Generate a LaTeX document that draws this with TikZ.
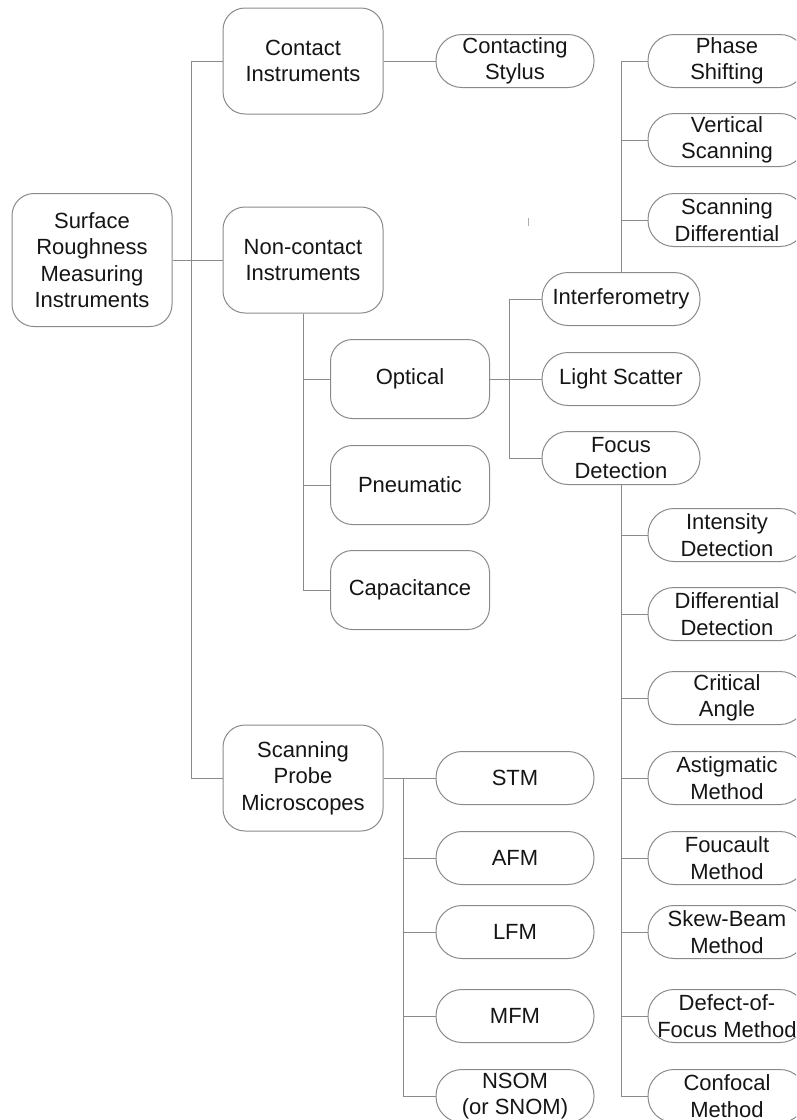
\documentclass[tikz,border=0pt]{standalone}
\usepackage{fontspec}
\usepackage{xcolor}
\setmainfont{Liberation Sans}
\definecolor{treeLine}{HTML}{8A8A8A}
\definecolor{treeText}{HTML}{151515}
\tikzset{
  catbox/.style={draw=treeLine,line width=1pt,rounded corners=22pt,minimum width=160pt,
    align=center,text=treeText,font=\fontsize{22}{26.5}\selectfont,inner sep=0pt},
  leafpill/.style={draw=treeLine,line width=1pt,rounded corners=26pt,minimum width=158pt,
    minimum height=53pt,align=center,text=treeText,font=\fontsize{22}{26.5}\selectfont,inner sep=0pt},
  link/.style={draw=treeLine,line width=1pt}
}

\begin{document}
\begin{tikzpicture}[x=1pt,y=-1pt]
\useasboundingbox (0,0) rectangle (796,1120);
\clip (0,0) rectangle (796,1120);
% main categories
\node[catbox,minimum height=133pt] (root) at (92,260) {Surface\\Roughness\\Measuring\\Instruments};
\node[catbox,minimum height=106pt] (contact) at (303,61) {Contact\\Instruments};
\node[catbox,minimum height=106pt] (noncontact) at (303,260) {Non-contact\\Instruments};
\node[catbox,minimum height=106pt] (spm) at (303,778) {Scanning\\Probe\\Microscopes};
\node[leafpill] (stylus) at (515,61) {Contacting\\Stylus};
% non-contact methods
\foreach \nm/\yy/\txt in {optical/379/Optical,pneumatic/485/Pneumatic,capacitance/590/Capacitance}
  \node[catbox,minimum width=159pt,minimum height=79pt] (\nm) at (410,\yy) {\txt};
\node[leafpill] (interf) at (621,299) {Interferometry};
\node[leafpill] (scatter) at (621,379) {Light Scatter};
\node[leafpill] (focus) at (621,458) {Focus\\Detection};
% interferometry leaves
\foreach \nm/\yy/\txt in {phase/61/{Phase\\Shifting},vertscan/140/{Vertical\\Scanning},
    scandiff/220/{Scanning\\Differential}}
  \node[leafpill] (\nm) at (727,\yy) {\txt};
% focus detection leaves
\foreach \nm/\yy/\txt in {intens/535/{Intensity\\Detection},diffdet/614/{Differential\\Detection},
    critical/698/{Critical\\Angle},astig/778/{Astigmatic\\Method},foucault/858/{Foucault\\Method},
    skew/932/{Skew-Beam\\Method},defect/1016/{Defect-of-\\Focus Method},confocal/1096/{Confocal\\Method}}
  \node[leafpill] (\nm) at (727,\yy) {\txt};
% probe microscopes
\foreach \nm/\yy/\txt in {stm/778/STM,afm/858/AFM,lfm/932/LFM,mfm/1016/MFM,nsom/1096/{NSOM\\(or SNOM)}}
  \node[leafpill] (\nm) at (515,\yy) {\txt};

% connectors
\coordinate (trunk) at (191,260);
\draw[link] (root.east) -- (noncontact.west);
\draw[link] (trunk) |- (contact.west);
\draw[link] (trunk) |- (spm.west);
\draw[link] (contact.east) -- (stylus.west);
\foreach \nm in {optical,pneumatic,capacitance}
  \draw[link] (noncontact.south) |- (\nm.west);
\coordinate (optbranch) at (509,379);
\draw[link] (optical.east) -- (scatter.west);
\draw[link] (optbranch) |- (interf.west);
\draw[link] (optbranch) |- (focus.west);
\foreach \nm in {phase,vertscan,scandiff}
  \draw[link] (interf.north) |- (\nm.west);
\foreach \nm in {intens,diffdet,critical,astig,foucault,skew,defect,confocal}
  \draw[link] (focus.south) |- (\nm.west);
\coordinate (spmbranch) at (403,778);
\draw[link] (spm.east) -- (stm.west);
\foreach \nm in {afm,lfm,mfm,nsom}
  \draw[link] (spmbranch) |- (\nm.west);
\draw[treeLine!70,line width=1pt] (528,218) -- (528,226);
\end{tikzpicture}
\end{document}
